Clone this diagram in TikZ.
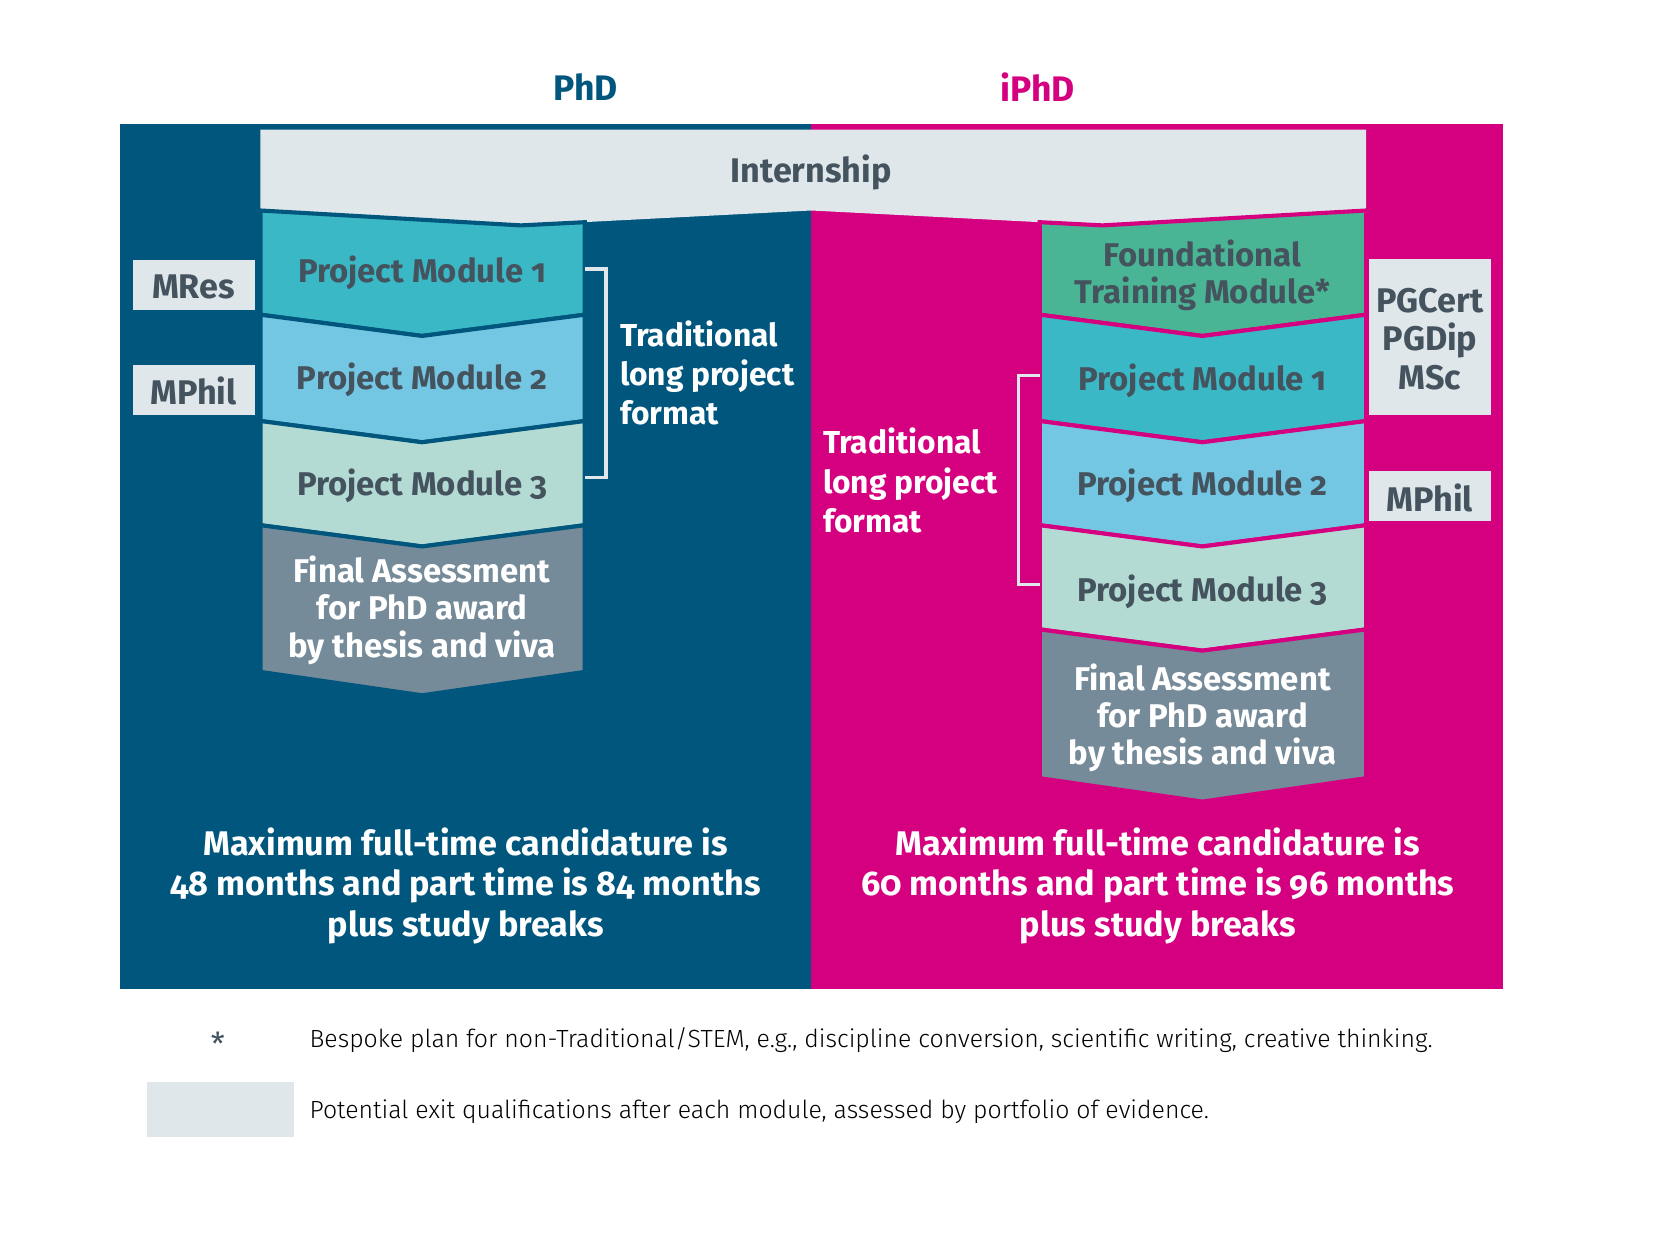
\documentclass[tikz,border=0pt]{standalone}
\usepackage{fontspec}
\setmainfont{Fira Sans}[Numbers=OldStyle]
\newfontfamily\lightfont{Fira Sans Light}[Numbers=OldStyle]
\definecolor{phdblue}{HTML}{00567D}
\definecolor{iphdpink}{HTML}{D5007F}
\definecolor{exitgray}{HTML}{DFE7EB}
\definecolor{txtgray}{HTML}{44535E}
\definecolor{pmone}{HTML}{3AB8C5}
\definecolor{pmtwo}{HTML}{73C7E3}
\definecolor{pmthree}{HTML}{B3DBD3}
\definecolor{finalgray}{HTML}{768B99}
\definecolor{foundgreen}{HTML}{4AB594}
\begin{document}
\begin{tikzpicture}[line cap=round,line join=round,x=0.02cm,y=-0.02cm,
    modtext/.style={text=txtgray,font=\bfseries\fontsize{17.6}{19.9}\selectfont,align=center},
    finaltext/.style={text=white,font=\bfseries\fontsize{17.6}{19.9}\selectfont,align=center},
    tradtext/.style={text=white,font=\bfseries\fontsize{17}{21}\selectfont,align=left,anchor=west},
    maxtext/.style={text=white,font=\bfseries\fontsize{18.3}{21.6}\selectfont,align=center},
    exittext/.style={text=txtgray,font=\bfseries\fontsize{18.3}{20.6}\selectfont,align=center},
    legtext/.style={text=black,font=\lightfont\fontsize{13.3}{15}\selectfont,anchor=west},
    sepblue/.style={draw=phdblue,line width=2.2pt,line join=miter},
    seppink/.style={draw=iphdpink,line width=2.2pt,line join=miter},
    bracket/.style={draw=exitgray,line width=1.8pt,line cap=butt,line join=miter}]
\useasboundingbox (0,0) rectangle (1568,1176);
\fill [phdblue] (113,117) rectangle (763,930);
\fill [iphdpink] (763,117) rectangle (1414,930);
\node [text=phdblue,font=\bfseries\fontsize{19}{22}\selectfont] (phd) at (551,82) {PhD};
\node [text=iphdpink,font=\bfseries\fontsize{19}{22}\selectfont] (iphd) at (976,82) {iPhD};
\fill [exitgray] (245,122) -- (1285,122) -- (1285,198) -- (1037,212) -- (763,198) -- (490,212) -- (245,198) -- cycle;
\node [modtext,font=\bfseries\fontsize{18.3}{20}\selectfont] (intern) at (763,162) {Internship};
\filldraw [fill=pmone,sepblue] (245,198) -- (490,212) -- (550,209) -- (550,296) -- (397,316) -- (245,296) -- cycle;
\filldraw [fill=pmtwo,sepblue] (245,296) -- (397,316) -- (550,296) -- (550,396) -- (397,416) -- (245,396) -- cycle;
\filldraw [fill=pmthree,sepblue] (245,396) -- (397,416) -- (550,396) -- (550,494) -- (397,514) -- (245,494) -- cycle;
\filldraw [fill=finalgray,sepblue] (245,494) -- (397,514) -- (550,494) -- (550,632) -- (397,654) -- (245,632) -- cycle;
\node [modtext] (pmonel) at (397,257) {Project Module 1};
\node [modtext] (pmtwol) at (397,357) {Project Module 2};
\node [modtext] (pmthreel) at (397,457) {Project Module 3};
\node [finaltext] (finall) at (397,574) {Final Assessment\\for PhD award\\by thesis and viva};
\filldraw [fill=foundgreen,seppink] (978,209) -- (1037,212) -- (1285,198) -- (1285,296) -- (1131,316) -- (978,296) -- cycle;
\filldraw [fill=pmone,seppink] (978,296) -- (1131,316) -- (1285,296) -- (1285,396) -- (1131,416) -- (978,396) -- cycle;
\filldraw [fill=pmtwo,seppink] (978,396) -- (1131,416) -- (1285,396) -- (1285,494) -- (1131,514) -- (978,494) -- cycle;
\filldraw [fill=pmthree,seppink] (978,494) -- (1131,514) -- (1285,494) -- (1285,592) -- (1131,612) -- (978,592) -- cycle;
\filldraw [fill=finalgray,seppink] (978,592) -- (1131,612) -- (1285,592) -- (1285,732) -- (1131,754) -- (978,732) -- cycle;
\node [modtext] (found) at (1131,259) {Foundational\\Training Module*};
\node [modtext] (pmoner) at (1131,358) {Project Module 1};
\node [modtext] (pmtwor) at (1131,457) {Project Module 2};
\node [modtext] (pmthreer) at (1131,557) {Project Module 3};
\node [finaltext] (finalr) at (1131,675) {Final Assessment\\for PhD award\\by thesis and viva};
\fill [exitgray] (125,245) rectangle (240,292);
\node [exittext] (mres) at (182,270) {MRes};
\fill [exitgray] (125,343) rectangle (240,390);
\node [exittext] (mphill) at (182,368) {MPhil};
\fill [exitgray] (1288,244) rectangle (1402,390);
\node [exittext] (pgcert) at (1345,319) {PGCert\\PGDip\\MSc};
\fill [exitgray] (1288,443) rectangle (1402,490);
\node [exittext] (mphilr) at (1345,468) {MPhil};
\draw [bracket] (550,253) -- (570,253) -- (570,449) -- (550,449);
\draw [bracket] (978,353) -- (958,353) -- (958,550) -- (978,550);
\node [tradtext] (tradl) at (577,351) {Traditional\\long project\\format};
\node [tradtext] (tradr) at (768,452) {Traditional\\long project\\format};
\node [maxtext] (maxl) at (438,833) {Maximum full-time candidature is\\48 months and part time is 84 months\\plus study breaks};
\node [maxtext] (maxr) at (1089,833) {Maximum full-time candidature is\\60 months and part time is 96 months\\plus study breaks};
\node [text=txtgray,font=\fontsize{17}{18}\selectfont] (star) at (205,982) {*};
\node [legtext] (bespoke) at (285,978) {Bespoke plan for non-Traditional/STEM, e.g., discipline conversion, scientific writing, creative thinking.};
\fill [exitgray] (138,1018) rectangle (277,1069);
\node [legtext] (exitnote) at (285,1046) {Potential exit qualifications after each module, assessed by portfolio of evidence.};
\end{tikzpicture}
\end{document}
